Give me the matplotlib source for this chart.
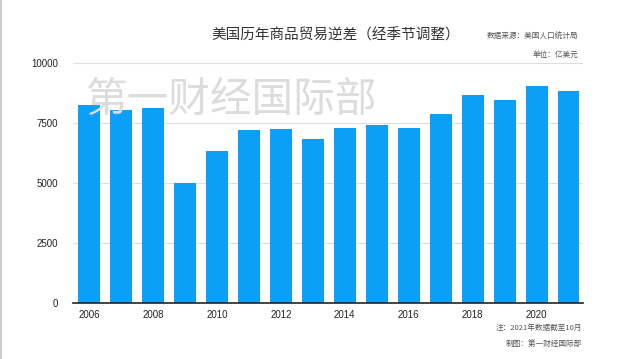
import numpy as np
import matplotlib
matplotlib.use("Agg")
import matplotlib.pyplot as plt
from matplotlib.lines import Line2D

plt.rcParams['font.family'] = ['Noto Sans CJK SC', 'DejaVu Sans']

# 年份与逆差（亿美元）
years = np.arange(2006, 2022)
deficit = np.array([8264, 8055, 8138, 5014, 6333, 7222, 7277, 6860,
                    7318, 7416, 7318, 7902, 8680, 8471, 9069, 8846])
tick_years = [2006, 2008, 2010, 2012, 2014, 2016, 2018, 2020]
y_ticks = [0, 2500, 5000, 7500, 10000]

fig = plt.figure(figsize=(6.4, 3.59), dpi=100)
ax = fig.add_axes([73 / 640, 1 - 303.3 / 359, 510 / 640, 240 / 359])

x = np.arange(len(years))
ax.bar(x, deficit, width=0.68, color="#0c9ff8", zorder=2)

ax.set_xlim(-0.5, 15.45)
ax.set_ylim(0, 10000)

ax.set_xticks([list(years).index(y) for y in tick_years])
ax.set_xticklabels([str(y) for y in tick_years],
                   fontfamily='Liberation Sans', fontsize=7, color="#222222")
ax.set_yticks(y_ticks)
ax.set_yticklabels([str(v) for v in y_ticks],
                   fontfamily='Liberation Sans', fontsize=7, color="#222222")
ax.tick_params(axis='both', length=0)
ax.tick_params(axis='y', pad=11)
ax.tick_params(axis='x', pad=5)

ax.grid(axis='y', color="#dedede", linewidth=0.8, zorder=0)
for s in ['top', 'right', 'left']:
    ax.spines[s].set_visible(False)
ax.spines['bottom'].set_color("#222222")
ax.spines['bottom'].set_linewidth(1.2)
ax.spines['bottom'].set_zorder(3)

# 水印
fig.text(85 / 640, 1 - 100 / 359, "第一财经国际部", fontsize=30,
         color="#dcdcdc", ha='left', va='center', zorder=1)

# 标题与说明
fig.text(336 / 640, 1 - 35 / 359, "美国历年商品贸易逆差（经季节调整）",
         fontsize=10.5, color="#333333", ha='center', va='center')
fig.text(578 / 640, 1 - 37 / 359, "数据来源：美国人口统计局",
         fontsize=5.5, color="#555555", ha='right', va='center')
fig.text(578 / 640, 1 - 55 / 359, "单位：亿美元",
         fontsize=5.5, color="#555555", ha='right', va='center')
fig.text(582 / 640, 1 - 327.5 / 359, "注：2021年数据截至10月",
         fontsize=5.5, color="#555555", ha='right', va='center')
fig.text(582 / 640, 1 - 343.5 / 359, "制图：第一财经国际部",
         fontsize=5.5, color="#555555", ha='right', va='center')

# 左侧边框
fig.add_artist(Line2D([1 / 640, 1 / 640], [0, 1], color="#cccccc",
                      linewidth=1.5, transform=fig.transFigure))

fig.savefig("out.png", dpi=100)
